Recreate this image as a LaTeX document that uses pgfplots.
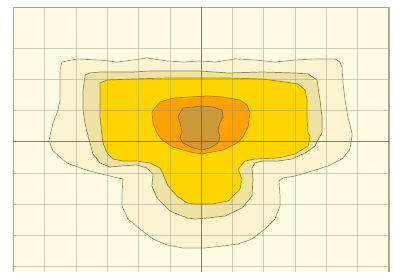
\documentclass[border=0pt]{standalone}
\usepackage{pgfplots}
\pgfplotsset{compat=1.18}
\definecolor{bg}{HTML}{FFFDE1}
\definecolor{cA}{HTML}{FCF4D0}
\definecolor{cB}{HTML}{EEE3A4}
\definecolor{cC}{HTML}{FFD500}
\definecolor{cD}{HTML}{FFA200}
\definecolor{cE}{HTML}{CC9A38}
\definecolor{lA}{HTML}{9A9A88}
\definecolor{lB}{HTML}{8E8A55}
\definecolor{lC}{HTML}{A08A10}
\definecolor{lD}{HTML}{B07810}
\definecolor{lE}{HTML}{9A6A20}
\definecolor{gridc}{HTML}{8C8C70}
\definecolor{gridd}{HTML}{505040}
\definecolor{frame}{HTML}{A8A8A0}
\begin{document}
\begin{tikzpicture}
\begin{axis}[
  scale only axis, width=375.7pt, height=264.7pt,
  xmin=13.3, xmax=389, ymin=7.3, ymax=272, y dir=reverse,
  axis x line*=top, axis y line*=box,
  axis line style={draw=frame, line width=1.4pt},
  axis background/.style={fill=bg},
  axis on top,
  xtick={44.6,75.9,107.2,138.5,169.8,201.1,232.4,263.7,295.0,326.3,357.6},
  ytick={48.3,79.5,110.6,141.7,172.8,204.0,235.2,266.4},
  xticklabels={}, yticklabels={},
  major tick length=0pt,
  grid=major,
  grid style={draw=gridc, draw opacity=0.4, line width=0.6pt},
  extra x ticks={201.1}, extra y ticks={141.7},
  extra x tick labels={}, extra y tick labels={},
  extra tick style={grid style={draw=gridd, draw opacity=0.6, line width=1pt}},
  every axis plot/.append style={line join=round},
]
\addplot[fill=cA, draw=lA, line width=0.7pt] coordinates {
(62,62)(77,59)(100,60)(117,62)(133,60)(147,58)(167,61)(183,62)(200,61)(215,62)(235,59)(255,60)(275,62)(295,60)(315,59)(335,59)(340,62)(342,67)(343,83)(345,100)(348,117)(352,133)(352,136)(350,149)(342,159)(328,166)(312,171)(295,176)(283,178)(279,181)(280,196)(280,206)(275,219)(265,229)(252,239)(238,244)(222,246)(205,248)(195,248)(183,248)(167,245)(153,239)(140,229)(128,219)(122,206)(122,194)(123,179)(118,178)(110,176)(97,173)(83,169)(67,163)(53,151)(49,141)(50,136)(53,123)(58,110)(60,100)(60,83)(60,70)
} -- cycle;
\addplot[fill=cB, draw=lB, line width=0.7pt] coordinates {
(85,75)(90,73)(100,72)(117,72)(133,72)(150,71)(167,71)(183,71)(200,71)(228,73)(262,72)(295,73)(308,74)(317,80)(318,87)(320,100)(322,117)(322,133)(320,136)(315,146)(305,153)(292,159)(278,161)(262,161)(255,163)(252,168)(253,179)(252,196)(242,208)(225,216)(208,218)(195,219)(187,218)(170,211)(157,198)(152,186)(153,174)(147,168)(137,165)(120,166)(110,167)(100,163)(93,154)(90,143)(88,136)(85,123)(83,110)(83,90)(85,77)
} -- cycle;
\addplot[fill=cC, draw=lC, line width=0.7pt] coordinates {
(100,83)(107,80)(133,79)(167,78)(200,78)(228,78)(262,79)(285,82)(298,84)(305,90)(307,100)(307,117)(308,133)(310,136)(308,146)(295,154)(278,158)(255,159)(245,161)(238,169)(242,179)(240,189)(228,201)(212,204)(195,204)(187,203)(177,196)(168,186)(163,174)(160,168)(150,163)(137,161)(123,161)(113,159)(107,153)(103,143)(102,136)(100,117)(100,93)(100,85)
} -- cycle;
\addplot[fill=cD, draw=lD, line width=0.7pt] coordinates {
(153,110)(160,102)(173,98)(190,97)(207,96)(223,97)(240,100)(247,105)(250,113)(248,127)(243,137)(237,143)(223,150)(207,153)(202,154)(190,152)(173,147)(162,140)(157,133)(153,123)(152,113)
} -- cycle;
\addplot[fill=cE, draw=lE, line width=0.7pt] coordinates {
(178,117)(180,113)(183,108)(193,107)(202,106)(213,107)(222,110)(223,117)(220,123)(218,130)(220,137)(218,143)(210,148)(202,150)(193,148)(183,143)(180,138)(182,132)(180,123)
} -- cycle;
\end{axis}
\path ([xshift=-13.3pt]current axis.south west) rectangle ([xshift=6pt,yshift=7.3pt]current axis.north east);
\end{tikzpicture}
\end{document}
